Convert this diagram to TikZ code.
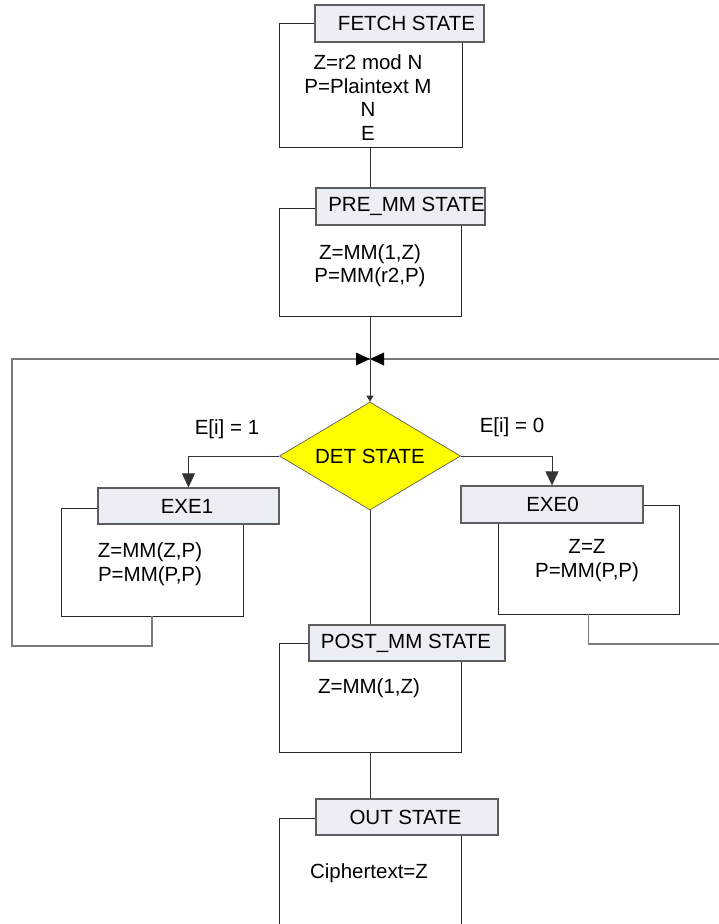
\documentclass[tikz,border=0pt]{standalone}
\usepackage{fontspec}
\setmainfont{Liberation Sans}
\usetikzlibrary{shapes.geometric,arrows.meta}

\definecolor{titlefill}{HTML}{EBEEF4}
\definecolor{titleedge}{HTML}{5E5E5E}
\definecolor{loopgray}{HTML}{7A7A7A}
\definecolor{decyellow}{HTML}{FFFF00}

\tikzset{
  txt/.style={font=\fontsize{20.5}{23.5}\selectfont, inner sep=0pt, align=center},
  titlebox/.style={draw=titleedge, fill=titlefill, line width=1.3pt, inner sep=0pt},
  bodybox/.style={draw=black!85, line width=0.9pt, inner sep=0pt},
  flow/.style={draw=black!80, line width=0.9pt},
  loop/.style={draw=loopgray, line width=1.4pt},
  bigtip/.style={-{Triangle[length=14pt,width=13pt]}},
  smalltip/.style={-{Triangle[length=6pt,width=7pt]}},
}

\begin{document}
\begin{tikzpicture}[x=1pt,y=-1pt]
\useasboundingbox (0,0) rectangle (719,924);
\clip (0,0) rectangle (719,924);
\fill[white] (0,0) rectangle (719,924);

% ---- FETCH STATE ----
\node[bodybox, minimum width=183, minimum height=124] (fetchbody) at (370.5,85) {};
\node[titlebox, minimum width=169, minimum height=37] (fetchtitle) at (399.5,23.5) {};
\node[txt] (fetchname) at (406.5,23.5) {FETCH STATE};
\node[txt] (fetchtxt) at (368,97.5) {Z=r2 mod N\\P=Plaintext M\\N\\E};

% ---- PRE_MM STATE ----
\node[bodybox, minimum width=182, minimum height=108] (prebody) at (370,262) {};
\node[titlebox, minimum width=169, minimum height=37] (pretitle) at (400.5,206.5) {};
\node[txt] (prename) at (406.5,206.5) {PRE\_MM STATE};
\node[txt] (pretxt) at (370,265.5) {Z=MM(1,Z)\\P=MM(r2,P)};

% ---- DET STATE ----
\coordinate (join) at (370,359);
\node[diamond, draw=black!70, line width=0.6pt, fill=decyellow, inner sep=0pt,
      aspect=1.676, minimum width=181, minimum height=108] (det) at (370,456) {};
\node[txt] (detname) at (370,456) {DET STATE};

% ---- EXE1 ----
\node[bodybox, minimum width=182, minimum height=108] (exe1body) at (152,562) {};
\node[titlebox, minimum width=181, minimum height=36] (exe1title) at (188.5,506) {};
\node[txt] (exe1name) at (187,506) {EXE1};
\node[txt] (exe1txt) at (150,564) {Z=MM(Z,P)\\P=MM(P,P)};

% ---- EXE0 ----
\node[bodybox, minimum width=181, minimum height=109] (exe0body) at (588.5,559.5) {};
\node[titlebox, minimum width=182, minimum height=37] (exe0title) at (552,504.5) {};
\node[txt] (exe0name) at (552.5,504.5) {EXE0};
\node[txt] (exe0txt) at (587,560.5) {Z=Z\\P=MM(P,P)};

% ---- POST_MM STATE ----
\node[bodybox, minimum width=182, minimum height=109] (postbody) at (370,697.5) {};
\node[titlebox, minimum width=196, minimum height=36] (posttitle) at (407,643) {};
\node[txt] (postname) at (406,643) {POST\_MM STATE};
\node[txt] (posttxt) at (369,688) {Z=MM(1,Z)};

% ---- OUT STATE ----
\node[bodybox, minimum width=182, minimum height=122] (outbody) at (370,879) {};
\node[titlebox, minimum width=182, minimum height=36] (outtitle) at (407,817) {};
\node[txt] (outname) at (405.5,817) {OUT STATE};
\node[txt] (outtxt) at (369,873) {Ciphertext=Z};

% ---- branch labels ----
\node[txt] (lbl1) at (227,429) {E[i] = 1};
\node[txt] (lbl0) at (512,427) {E[i] = 0};

% ---- connectors ----
\draw[flow] (fetchbody.south) -- (pretitle.north -| fetchbody.south);
\draw[flow] (prebody.south) -- (join);
\draw[flow, smalltip] (join) -- (det.north);

% loop back from EXE1
\coordinate (l1) at (152,646);
\coordinate (l2) at (12,646);
\coordinate (l3) at (12,359);
\draw[loop] (exe1body.south) -- (l1) -- (l2) -- (l3) -- (join);
\fill[black] (join) -- ++(-14,-6.5) -- ++(0,13) -- cycle;

% loop back from EXE0
\coordinate (r1) at (588.5,644);
\coordinate (r2) at (722,644);
\coordinate (r3) at (722,359);
\draw[loop] (exe0body.south) -- (r1) -- (r2) -- (r3) -- (join);
\fill[black] (join) -- ++(14,-6.5) -- ++(0,13) -- cycle;

% decision branches
\draw[flow, bigtip] (det.west) -| (exe1title.north);
\draw[flow, bigtip] (det.east) -| (exe0title.north);
\draw[flow] (det.south) -- (det.south |- posttitle.north);
\draw[flow] (postbody.south) -- (postbody.south |- outtitle.north);
\end{tikzpicture}
\end{document}
